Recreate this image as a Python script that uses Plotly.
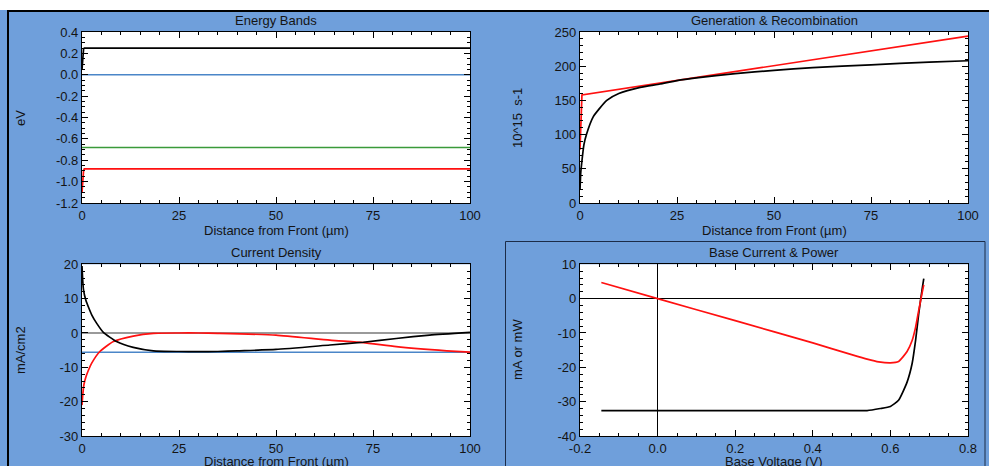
import plotly.graph_objects as go

W, H = 989, 466

# ---------------- data ----------------
# Energy bands vs depth (eV)
eb_x = [0, 0.2, 0.4, 0.6, 1, 2, 100]
eb_cond = [0.05, 0.18, 0.24, 0.25, 0.25, 0.25, 0.25]
eb_fermi = [0.0, 0.0, 0.0, 0.0, 0.0, 0.0, 0.0]
eb_mid = [-0.68, -0.68, -0.68, -0.68, -0.68, -0.68, -0.68]
eb_val = [-1.10, -0.97, -0.90, -0.88, -0.88, -0.88, -0.88]

# Generation & recombination (10^15 s-1)
gen_x = [0, 0.2, 0.5, 100]
gen_val = [78, 125, 158, 244]
rec_x = [0, 0.2, 0.43, 1, 1.7, 3.4, 5, 6.9, 10, 15.5, 20.6, 25, 30, 40, 50,
         60, 75, 90, 100]
rec_val = [19, 45, 58, 85, 101, 126, 138, 150, 160, 169, 174, 179, 183, 189,
           194, 198, 202, 206, 208]

# Current density (mA/cm2)
jn_x = [0, 0.2, 0.4, 1, 1.6, 2.5, 3.8, 5.5, 8.9, 13.2, 18.4, 25, 30, 35, 40,
        50, 63.9, 72.5, 81, 89.6, 100]
jn_val = [19.5, 15, 12.5, 9.5, 7.7, 5.3, 2.8, 0.2, -2.5, -4.2, -5.2, -5.4,
          -5.45, -5.4, -5.2, -4.8, -3.5, -2.7, -1.6, -0.6, 0.2]
jp_x = [0, 0.2, 0.5, 1, 1.6, 2.5, 4.6, 8.1, 13.2, 18.4, 25, 30, 35, 50, 63.9,
        72.5, 81, 94, 100]
jp_val = [-21, -18, -15, -12.8, -11, -8.8, -5.4, -2.5, -0.9, -0.1, 0, 0, -0.1,
          -0.6, -2.1, -2.8, -4.0, -5.2, -5.6]
jt_x = [0, 100]
jt_val = [-5.6, -5.6]

# Base current & power vs base voltage
iv_v = [-0.145, 0, 0.2, 0.4, 0.5, 0.54, 0.574, 0.6, 0.621, 0.643, 0.656,
        0.665, 0.673, 0.682, 0.686]
iv_i = [-32.6, -32.6, -32.6, -32.6, -32.6, -32.6, -32.0, -31.4, -29.6, -24.3,
        -18.9, -12.1, -4.4, 2.9, 5.8]
pw_v = [-0.145, 0, 0.2, 0.4, 0.5, 0.54, 0.57, 0.6, 0.621, 0.643, 0.656,
        0.665, 0.673, 0.682, 0.686]
pw_p = [4.7, 0, -6.4, -12.9, -16.3, -17.6, -18.4, -18.7, -18.3, -15.4, -12.2,
        -8.3, -3.4, 1.8, 4.0]

# tick labels
dist_ticks = [0, 25, 50, 75, 100]
eb_ticks = [0.4, 0.2, 0.0, -0.2, -0.4, -0.6, -0.8, -1.0, -1.2]
gr_ticks = [0, 50, 100, 150, 200, 250]
jd_ticks = [20, 10, 0, -10, -20, -30]
vb_ticks = [-0.2, 0.0, 0.2, 0.4, 0.6, 0.8]
pw_ticks = [10, 0, -10, -20, -30, -40]

# ---------------- style ----------------
BG = "#6f9fdb"
FONT = "Liberation Sans"
TXT = "#141414"
RED = "#ff1010"
BLUE = "#4a86c8"
GREEN = "#3a9a3a"


def px_x(p):
    return p / W


def px_y(p):
    return 1 - p / H


def lbl(v, fmt):
    return fmt.format(v).replace("\u2212", "-")


def axis(rng, vals, fmt, minor, dom, **kw):
    d = dict(
        range=rng, domain=dom, tickmode="array", tickvals=vals,
        ticktext=[lbl(v, fmt) for v in vals],
        ticks="inside", ticklen=6, tickwidth=1, tickcolor="black",
        showline=True, linecolor="black", linewidth=1.2, mirror="allticks",
        showgrid=False, zeroline=False, fixedrange=True,
        tickfont=dict(family=FONT, size=13, color=TXT),
        minor=dict(dtick=minor, tick0=0, ticks="inside", ticklen=3,
                   tickwidth=1, tickcolor="black", showgrid=False),
    )
    d.update(kw)
    return d


xd_left = [px_x(82), px_x(470)]
xd_right = [px_x(580), px_x(968)]
yd_top = [px_y(203), px_y(32)]
yd_bot = [px_y(436), px_y(264.3)]

fig = go.Figure()


def line(x, y, color, xa, ya, name, width=1.7, smooth=False):
    ln = dict(color=color, width=width)
    if smooth:
        ln.update(shape="spline", smoothing=0.5)
    fig.add_trace(go.Scatter(x=x, y=y, mode="lines", name=name, xaxis=xa,
                             yaxis=ya, line=ln,
                             showlegend=False, hoverinfo="skip"))


# Energy bands
line(eb_x, eb_fermi, BLUE, "x", "y", "Fermi level", 1.4)
line(eb_x, eb_mid, GREEN, "x", "y", "Intrinsic level", 1.4)
line(eb_x, eb_val, RED, "x", "y", "Valence band")
line(eb_x, eb_cond, "black", "x", "y", "Conduction band")

# Generation & recombination
line(gen_x, gen_val, RED, "x2", "y2", "Generation")
line(rec_x, rec_val, "black", "x2", "y2", "Recombination", smooth=True)

# Current density
line(jt_x, jt_val, BLUE, "x3", "y3", "Total current", 1.4)
line(jp_x, jp_val, RED, "x3", "y3", "Hole current", smooth=True)
line(jn_x, jn_val, "black", "x3", "y3", "Electron current", smooth=True)

# Base current & power
line(iv_v, iv_i, "black", "x4", "y4", "Base current", smooth=True)
line(pw_v, pw_p, RED, "x4", "y4", "Base power", smooth=True)

fig.update_layout(
    width=W, height=H,
    margin=dict(l=0, r=0, t=0, b=0, pad=0, autoexpand=False),
    paper_bgcolor=BG, plot_bgcolor="white",
    xaxis=axis([0, 100], dist_ticks, "{:d}", 5, xd_left, anchor="y"),
    yaxis=axis([-1.2, 0.4], eb_ticks, "{:.1f}", 0.05, yd_top, anchor="x"),
    xaxis2=axis([0, 100], dist_ticks, "{:d}", 5, xd_right, anchor="y2"),
    yaxis2=axis([0, 250], gr_ticks, "{:d}", 10, yd_top, anchor="x2"),
    xaxis3=axis([0, 100], dist_ticks, "{:d}", 5, xd_left, anchor="y3"),
    yaxis3=axis([-30, 20], jd_ticks, "{:d}", 2, yd_bot, anchor="x3",
                zeroline=True, zerolinecolor="#9a9a9a", zerolinewidth=2),
    xaxis4=axis([-0.2, 0.8], vb_ticks, "{:.1f}", 0.05, xd_right, anchor="y4",
                zeroline=True, zerolinecolor="black", zerolinewidth=1),
    yaxis4=axis([-40, 10], pw_ticks, "{:d}", 2, yd_bot, anchor="x4",
                zeroline=True, zerolinecolor="black", zerolinewidth=1),
)

# frame: white strip on top, black edges, outline of the active panel
fig.add_shape(type="rect", xref="paper", yref="paper", x0=0, x1=1,
              y0=px_y(10), y1=1, fillcolor="white", line=dict(width=0),
              layer="below")
fig.add_shape(type="line", xref="paper", yref="paper", x0=px_x(7), x1=1,
              y0=px_y(11), y1=px_y(11), line=dict(color="black", width=2))
fig.add_shape(type="line", xref="paper", yref="paper", x0=px_x(8),
              x1=px_x(8), y0=0, y1=px_y(10), line=dict(color="black", width=2))
fig.add_shape(type="rect", xref="paper", yref="paper", x0=px_x(505.5),
              x1=px_x(985), y0=-0.01, y1=px_y(241.5),
              line=dict(color="#1c2c48", width=1))


def text(s, x, y, angle=0, size=13):
    fig.add_annotation(text=s, x=px_x(x), y=px_y(y), xref="paper",
                       yref="paper", showarrow=False, textangle=angle,
                       xanchor="center", yanchor="middle",
                       font=dict(family=FONT, size=size, color=TXT))


text("Energy Bands", 276, 20.5)
text("Generation &amp; Recombination", 774, 20.5)
text("Current Density", 276, 252.5)
text("Base Current &amp; Power", 774, 252.5)

text("Distance from Front (µm)", 276, 230)
text("Distance from Front (µm)", 774, 230)
# the bottom row's axis titles sit at the lower edge of the window
text("Distance from Front (µm)", 276, 461)
text("Base Voltage (V)", 774, 461)

text("eV", 20, 118, -90)
text("10^15  s-1", 517, 118, -90)
text("mA/cm2", 20, 350, -90)
text("mA or mW", 517, 350, -90)

fig.write_html("out.html")
